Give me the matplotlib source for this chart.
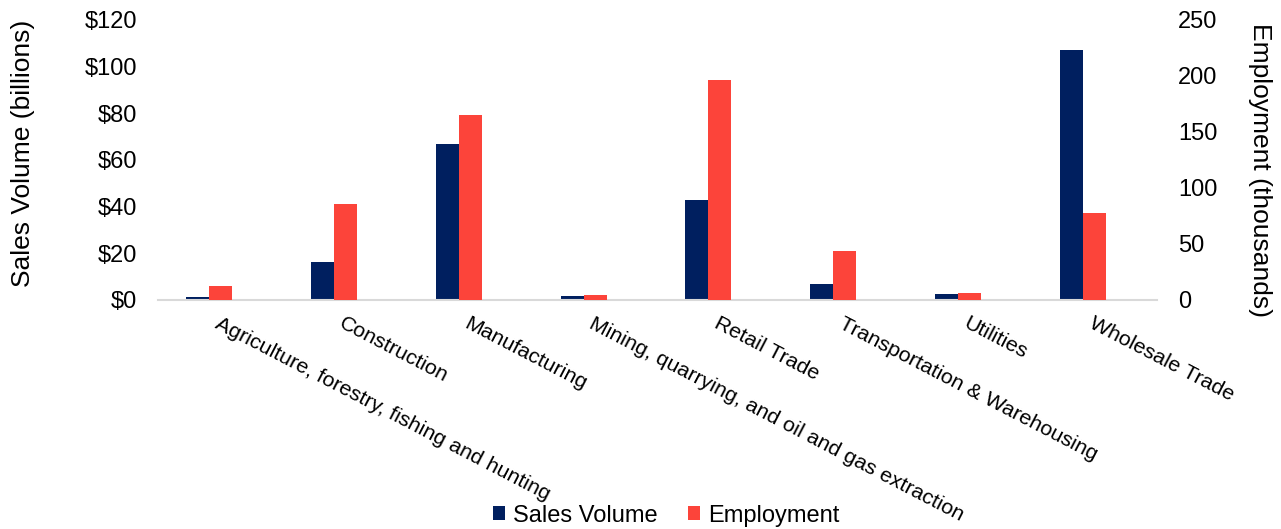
import numpy as np
import matplotlib.pyplot as plt
from matplotlib.ticker import FuncFormatter

plt.rcParams['font.family'] = ['Liberation Sans', 'DejaVu Sans']

# Data
categories = ['Agriculture, forestry, fishing and hunting', 'Construction', 'Manufacturing',
              'Mining, quarrying, and oil and gas extraction', 'Retail Trade',
              'Transportation & Warehousing', 'Utilities', 'Wholesale Trade']
sales_volume = [1.4, 16.4, 66.9, 1.6, 42.9, 6.9, 2.4, 107.1]   # $ billions
employment = [12.5, 85.7, 165, 4.2, 196, 44, 6.2, 77.7]        # thousands

navy = '#001F5F'
red = '#FC443A'

fig = plt.figure(figsize=(12.81, 5.29), dpi=100)
ax = fig.add_axes([0.1233, 0.4329, 0.7799, 0.5293])
ax2 = ax.twinx()

x = np.arange(len(categories))
w = 0.184

# navy bar sits left of the red one, red is centred on the category
ax.bar(x - 1.5 * w, sales_volume, width=w, align='edge', color=navy, label='Sales Volume')
ax2.bar(x - 0.5 * w, employment, width=w, align='edge', color=red, label='Employment')

ax.set_xlim(-0.5, len(categories) - 0.5)
ax.set_ylim(0, 120)
ax2.set_ylim(0, 250)
ax.set_yticks(range(0, 121, 20))
ax2.set_yticks(range(0, 251, 50))
ax.yaxis.set_major_formatter(FuncFormatter(lambda v, p: f'${v:.0f}'))

for a in (ax, ax2):
    for s in a.spines.values():
        s.set_visible(False)
    a.tick_params(length=0, labelsize=17, colors='black')
ax.spines['bottom'].set_visible(True)
ax.spines['bottom'].set_color('#D9D9D9')
ax.spines['bottom'].set_linewidth(1.5)

ax.set_xticks(x)
ax.set_xticklabels(categories, rotation=-27.5, ha='left', va='top',
                   rotation_mode='anchor', fontsize=15.4)
ax.tick_params(axis='x', pad=10)
ax.tick_params(axis='y', pad=15)
ax2.tick_params(axis='y', pad=15)

ax.set_ylabel('Sales Volume (billions)', fontsize=19, va='center')
ax.yaxis.set_label_coords(-0.135, 0.525)
ax2.set_ylabel('Employment (thousands)', fontsize=19, rotation=-90, va='center')
ax2.yaxis.set_label_coords(1.103, 0.464)

h1, l1 = ax.get_legend_handles_labels()
h2, l2 = ax2.get_legend_handles_labels()
fig.legend(h1 + h2, l1 + l2, loc='center', bbox_to_anchor=(0.520, 0.0255), ncol=2,
           frameon=False, fontsize=17, handlelength=0.5, handleheight=0.5,
           handletextpad=0.35, columnspacing=1.3)

fig.savefig('out.png', dpi=100)
